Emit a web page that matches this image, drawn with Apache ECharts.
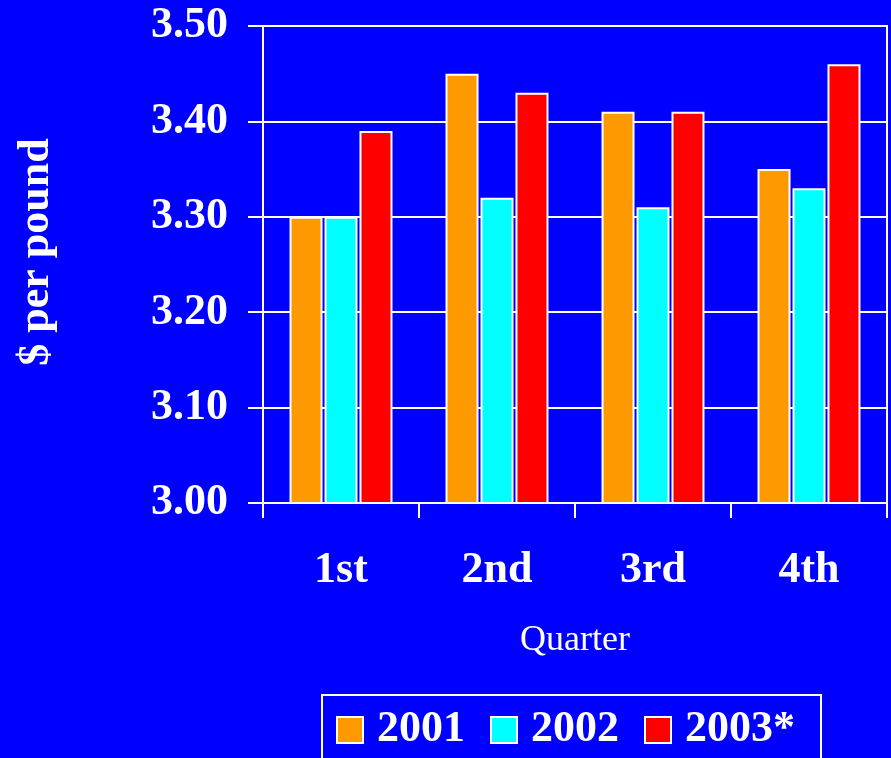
<!DOCTYPE html>
<html>
<head>
<meta charset="utf-8">
<script src="https://cdn.jsdelivr.net/npm/echarts@6/dist/echarts.min.js"></script>
<style>
html,body{margin:0;padding:0;background:#0000FF;}
#chart{width:891px;height:758px;}
</style>
</head>
<body>
<div id="chart"></div>
<script>
var categories = ['1st', '2nd', '3rd', '4th'];
var seriesNames = ['2001', '2002', '2003*'];
var values2001 = [3.30, 3.45, 3.41, 3.35];
var values2002 = [3.30, 3.32, 3.31, 3.33];
var values2003 = [3.39, 3.43, 3.41, 3.46];
var yTicks = [3.00, 3.10, 3.20, 3.30, 3.40, 3.50];
var colors = ['#FF9900', '#00FFFF', '#FF0000'];

var chart = echarts.init(document.getElementById('chart'));
var font = 'Liberation Serif, Times New Roman, serif';
var allValues = [values2001, values2002, values2003];
var series = seriesNames.map(function (n, i) {
  return {
    name: n,
    type: 'bar',
    data: allValues[i],
    barWidth: 33,
    barGap: '6%',
    itemStyle: { color: colors[i], borderColor: '#FFFFFF', borderWidth: 2 }
  };
});
chart.setOption({
  backgroundColor: '#0000FF',
  animation: false,
  grid: { left: 263, top: 26, right: 4, bottom: 255, show: true, borderColor: '#FFFFFF', borderWidth: 2 },
  xAxis: {
    type: 'category',
    data: categories,
    name: 'Quarter',
    nameLocation: 'middle',
    nameGap: 120,
    nameTextStyle: { color: '#FFFFFF', fontFamily: font, fontSize: 36 },
    axisLine: { lineStyle: { color: '#FFFFFF', width: 2 } },
    axisTick: { show: true, length: 15, lineStyle: { color: '#FFFFFF', width: 2 } },
    axisLabel: { color: '#FFFFFF', fontFamily: font, fontWeight: 'bold', fontSize: 44, margin: 46 }
  },
  yAxis: {
    type: 'value',
    min: yTicks[0],
    max: yTicks[yTicks.length - 1],
    interval: 0.1,
    axisLine: { show: true, lineStyle: { color: '#FFFFFF', width: 2 } },
    axisTick: { show: true, length: 15, lineStyle: { color: '#FFFFFF', width: 2 } },
    splitLine: { lineStyle: { color: '#FFFFFF', width: 2 } },
    axisLabel: {
      color: '#FFFFFF', fontFamily: font, fontWeight: 'bold', fontSize: 44, margin: 35,
      formatter: function (v) { return v.toFixed(2); }
    }
  },
  legend: {
    data: seriesNames,
    left: 322,
    top: 695,
    orient: 'horizontal',
    padding: [13, 26, 20, 14],
    itemWidth: 26,
    itemHeight: 26,
    itemGap: 25,
    borderColor: '#FFFFFF',
    borderWidth: 2,
    icon: 'rect',
    textStyle: { color: '#FFFFFF', fontFamily: font, fontWeight: 'bold', fontSize: 44, padding: [0, 0, 0, 9] }
  },
  graphic: [{
    type: 'text',
    x: 37,
    y: 252,
    rotation: Math.PI / 2,
    style: {
      text: '$ per pound',
      fill: '#FFFFFF',
      font: 'bold 44px ' + font,
      textAlign: 'center',
      textVerticalAlign: 'middle'
    }
  }],
  series: series
});
</script>
</body>
</html>
